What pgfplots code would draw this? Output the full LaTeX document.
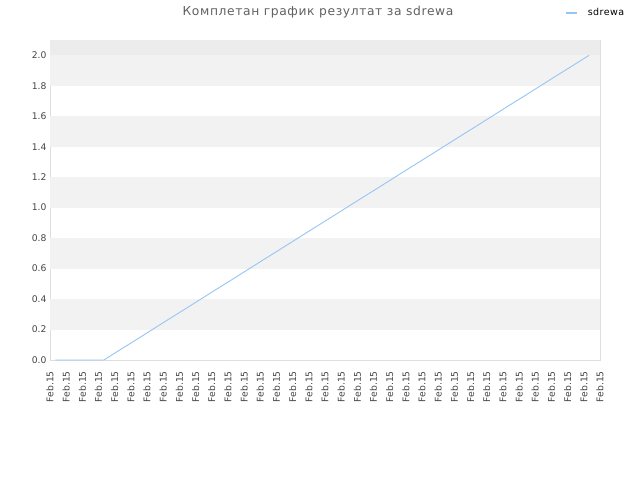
\documentclass[border=0pt]{standalone}
\usepackage{pgfplots}
\pgfplotsset{compat=1.18}
\usepackage{fontspec}
\setmainfont{DejaVu Sans}
\definecolor{lineblue}{RGB}{150,198,245}
\definecolor{bandgray}{RGB}{242,242,242}
\definecolor{topgray}{RGB}{236,236,236}
\definecolor{gridgray}{RGB}{222,222,222}
\definecolor{txt}{RGB}{68,68,68}
\begin{document}
\begin{tikzpicture}
\begin{axis}[
    at={(50pt,120pt)}, anchor=origin,
    scale only axis,
    width=550pt, height=320pt,
    xmin=0, xmax=34,
    ymin=0, ymax=2.1,
    xtick={0,...,34},
    xticklabels={Feb.15,Feb.15,Feb.15,Feb.15,Feb.15,Feb.15,Feb.15,Feb.15,Feb.15,Feb.15,Feb.15,Feb.15,Feb.15,Feb.15,Feb.15,Feb.15,Feb.15,Feb.15,Feb.15,Feb.15,Feb.15,Feb.15,Feb.15,Feb.15,Feb.15,Feb.15,Feb.15,Feb.15,Feb.15,Feb.15,Feb.15,Feb.15,Feb.15,Feb.15,Feb.15},
    x tick label style={rotate=90, anchor=east, font=\fontsize{9.2}{10}\selectfont, text=txt, inner sep=1pt},
    xticklabel shift=10pt,
    ytick={0,0.2,...,2.0},
    yticklabel style={font=\fontsize{9.2}{10}\selectfont, text=txt},
    yticklabel={\pgfmathprintnumber[fixed,fixed zerofill,precision=1]{\tick}},
    /pgf/number format/assume math mode=true,
    major tick length=0pt,
    ymajorgrids=true,
    grid style={gridgray, line width=0.8pt},
    axis line style={gridgray, line width=0.8pt},
    legend style={at={(0.936,1.084)}, anchor=west, draw=none, fill=none,
        font=\fontsize{9.5}{10}\selectfont\addfontfeature{LetterSpace=5}, text=black,
        inner sep=0pt, column sep=8pt},
    legend image code/.code={\draw[#1, line width=1.8pt] (0pt,0pt) -- (11pt,0pt);},
    axis background/.style={fill=white},
]
\fill[topgray] (axis cs:0,2.0) rectangle (axis cs:34,2.1);
\fill[bandgray] (axis cs:0,1.8) rectangle (axis cs:34,2.0);
\fill[bandgray] (axis cs:0,1.4) rectangle (axis cs:34,1.6);
\fill[bandgray] (axis cs:0,1.0) rectangle (axis cs:34,1.2);
\fill[bandgray] (axis cs:0,0.6) rectangle (axis cs:34,0.8);
\fill[bandgray] (axis cs:0,0.2) rectangle (axis cs:34,0.4);
\addplot[color=lineblue, line width=0.9pt, mark=none]
    coordinates {
    (0.33,0) (1.33,0) (2.33,0) (3.33,0)
    (4.33,0.067) (5.33,0.133) (6.33,0.2) (7.33,0.267) (8.33,0.333)
    (9.33,0.4) (10.33,0.467) (11.33,0.533) (12.33,0.6) (13.33,0.667)
    (14.33,0.733) (15.33,0.8) (16.33,0.867) (17.33,0.933) (18.33,1.0)
    (19.33,1.067) (20.33,1.133) (21.33,1.2) (22.33,1.267) (23.33,1.333)
    (24.33,1.4) (25.33,1.467) (26.33,1.533) (27.33,1.6) (28.33,1.667)
    (29.33,1.733) (30.33,1.8) (31.33,1.867) (32.33,1.933) (33.33,2.0)
    };
\legend{sdrewa}
\end{axis}
\node[text=txt!85, font=\fontsize{12.3}{14}\selectfont\addfontfeature{LetterSpace=5}] at (318pt,468pt) {Комплетан график резултат за sdrewa};
\path (0pt,0pt) rectangle (640pt,480pt);
\end{tikzpicture}
\end{document}
